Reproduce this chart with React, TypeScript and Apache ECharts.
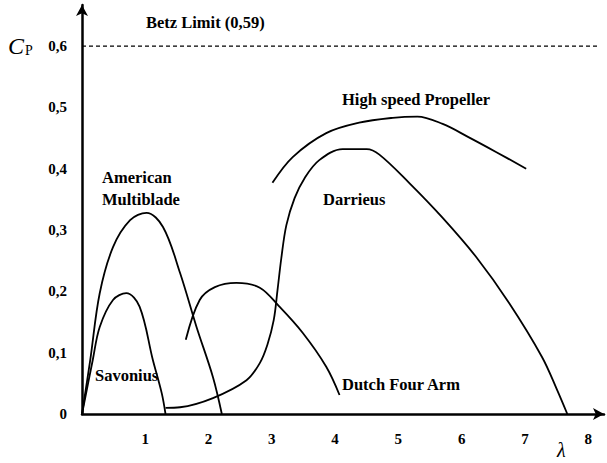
import React, { useEffect, useRef } from "react";
import * as echarts from "echarts";

const xTicks = [1, 2, 3, 4, 5, 6, 7, 8];
const yTicks = [0, 0.1, 0.2, 0.3, 0.4, 0.5, 0.6];
const betzLimit = 0.6;
const betzSpan = [0, 8.15];

const savonius: [number, number][] = [
  [0, 0], [0.17, 0.088], [0.28, 0.142], [0.49, 0.186], [0.7, 0.197],
  [0.91, 0.175], [1.12, 0.088], [1.26, 0.034], [1.32, 0],
];
const americanMultiblade: [number, number][] = [
  [0, 0], [0.13, 0.088], [0.28, 0.197], [0.49, 0.272], [0.76, 0.316],
  [1.02, 0.328], [1.28, 0.305], [1.55, 0.23], [1.81, 0.142], [2.07, 0.06], [2.21, 0],
];
const dutchFourArm: [number, number][] = [
  [1.64, 0.121], [1.86, 0.186], [2.1, 0.207], [2.44, 0.214], [2.81, 0.206],
  [3.12, 0.175], [3.49, 0.132], [3.86, 0.077], [4.07, 0.031],
];
const darrieus: [number, number][] = [
  [1.32, 0.01], [1.55, 0.011], [2.07, 0.026], [2.6, 0.055], [2.81, 0.083],
  [2.93, 0.113], [3.03, 0.153], [3.09, 0.202], [3.15, 0.254], [3.23, 0.308],
  [3.36, 0.352], [3.52, 0.385], [3.75, 0.414], [4.12, 0.432], [4.5, 0.432],
  [4.7, 0.423], [5.17, 0.377], [5.69, 0.321], [6.23, 0.256], [6.75, 0.181],
  [7.27, 0.093], [7.51, 0.039], [7.67, 0],
];
const highSpeedPropeller: [number, number][] = [
  [3.01, 0.377], [3.33, 0.419], [3.86, 0.458], [4.38, 0.475], [4.91, 0.483],
  [5.3, 0.485], [5.7, 0.473], [6.1, 0.452], [6.55, 0.427], [7.02, 0.4],
];

const SERIF = "'Liberation Serif', 'DejaVu Serif', serif";

export default function App() {
  const ref = useRef<HTMLDivElement>(null);
  useEffect(() => {
    document.body.style.margin = "0";
    const chart = echarts.init(ref.current!, null, { renderer: "svg" });
    const curve = (name: string, data: [number, number][]) => ({
      name,
      type: "line",
      data,
      smooth: 0.35,
      showSymbol: false,
      lineStyle: { color: "#000", width: 1.8 },
    });
    const txt = (text: string, x: number, y: number, size = 16.5) => ({
      type: "text",
      x,
      y,
      style: {
        text,
        fill: "#000",
        font: `bold ${size}px ${SERIF}`,
        textVerticalAlign: "middle",
      },
    });
    chart.setOption({
      animation: false,
      backgroundColor: "#fff",
      grid: { left: 82, top: 5, right: 2, bottom: 49, containLabel: false },
      xAxis: {
        type: "value",
        min: 0,
        max: 8.25,
        interval: 1,
        axisLine: {
          lineStyle: { color: "#000", width: 2.5 },
          symbol: ["none", "arrow"],
          symbolSize: [9, 11],
        },
        axisTick: { show: false },
        splitLine: { show: false },
        axisLabel: {
          margin: 17,
          color: "#000",
          fontFamily: SERIF,
          fontWeight: "bold",
          fontSize: 15,
          formatter: (v: number) =>
            xTicks.includes(Math.round(v * 100) / 100) ? String(v) : "",
        },
      },
      yAxis: {
        type: "value",
        min: 0,
        max: 0.667,
        interval: 0.1,
        axisLine: {
          lineStyle: { color: "#000", width: 2.5 },
          symbol: ["none", "arrow"],
          symbolSize: [9, 11],
        },
        axisTick: { show: false },
        splitLine: { show: false },
        axisLabel: {
          margin: 15,
          color: "#000",
          fontFamily: SERIF,
          fontWeight: "bold",
          fontSize: 15,
          formatter: (v: number) => {
            const r = Math.round(v * 10) / 10;
            if (Math.abs(r - v) > 1e-6 || !yTicks.includes(r)) return "";
            return r === 0 ? "0" : r.toFixed(1).replace(".", ",");
          },
        },
      },
      series: [
        {
          name: "Betz Limit",
          type: "line",
          data: [[betzSpan[0], betzLimit], [betzSpan[1], betzLimit]],
          showSymbol: false,
          lineStyle: { color: "#000", width: 1.4, type: [4, 3] },
        },
        curve("Savonius", savonius),
        curve("American Multiblade", americanMultiblade),
        curve("Dutch Four Arm", dutchFourArm),
        curve("Darrieus", darrieus),
        curve("High speed Propeller", highSpeedPropeller),
      ],
      graphic: [
        txt("Betz Limit (0,59)", 146, 22),
        txt("High speed Propeller", 342, 99),
        txt("American", 102, 177),
        txt("Multiblade", 102, 199),
        txt("Darrieus", 323, 199),
        txt("Savonius", 95, 375),
        txt("Dutch Four Arm", 342, 384),
        {
          type: "text",
          x: 8,
          y: 46,
          style: {
            text: "{c|C}{p|P}",
            textVerticalAlign: "middle",
            rich: {
              c: { font: `italic 24px ${SERIF}`, fill: "#000" },
              p: { font: `14px ${SERIF}`, fill: "#000", padding: [8, 0, 0, 1] },
            },
          },
        },
        {
          type: "text",
          x: 557,
          y: 450,
          style: {
            text: "λ",
            fill: "#000",
            font: `italic 20px ${SERIF}`,
            textVerticalAlign: "middle",
          },
        },
      ],
    });
    return () => chart.dispose();
  }, []);
  return <div ref={ref} style={{ width: 607, height: 463 }} />;
}
